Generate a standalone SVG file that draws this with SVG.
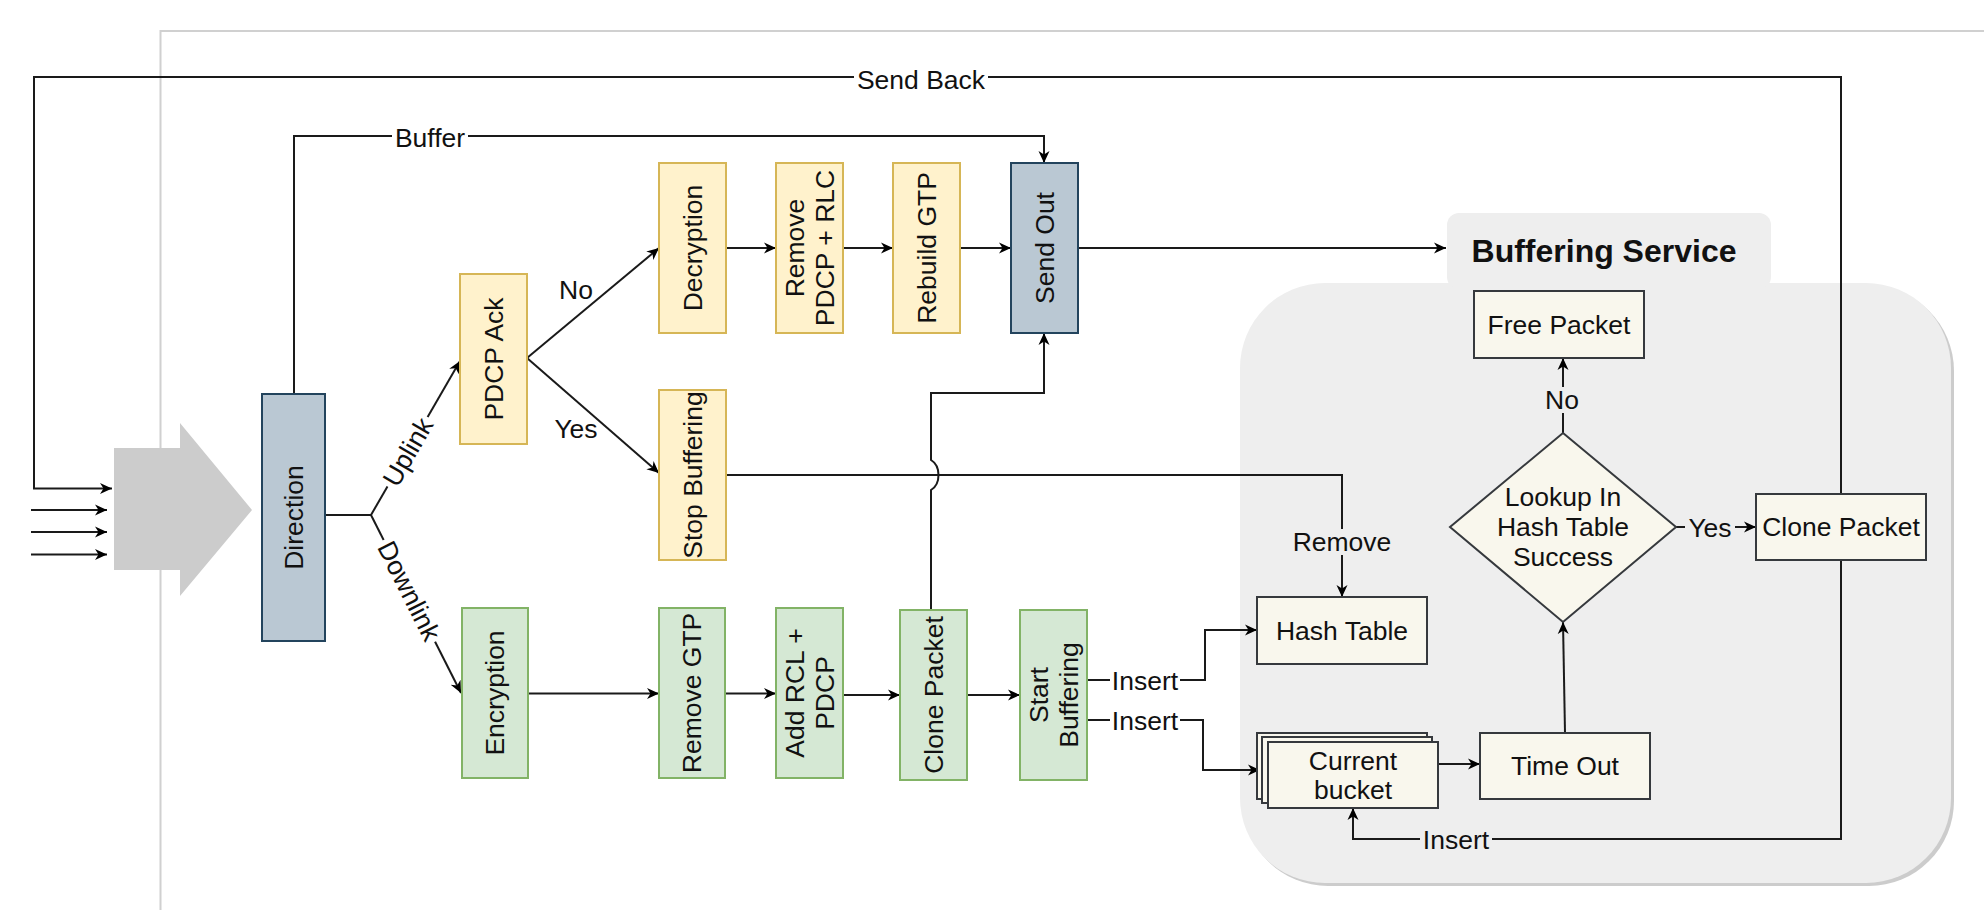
<svg xmlns="http://www.w3.org/2000/svg" width="1984" height="910" viewBox="0 0 1984 910">
  <style>
    text { font-family: "Liberation Sans", Arial, sans-serif; font-size: 26.5px; fill: #111; }
    .c { text-anchor: middle; dominant-baseline: central; }
    .yel { fill: #fff2cc; stroke: #d6b656; stroke-width: 2; }
    .grn { fill: #d5e8d4; stroke: #82b366; stroke-width: 2; }
    .blu { fill: #bac8d3; stroke: #23445d; stroke-width: 2; }
    .bei { fill: #f9f7ed; stroke: #36393d; stroke-width: 2; }
    .ln { fill: none; stroke: #1a1a1a; stroke-width: 2; }
    .arr { marker-end: url(#ah); }
    .bgw { fill: #ffffff; }
    .bgg { fill: #eeeeee; }
    .title { font-size: 32px; font-weight: bold; }
  </style>
  <defs>
    <marker id="ah" viewBox="0 0 13 13" refX="12" refY="6.5" markerWidth="13" markerHeight="13" markerUnits="userSpaceOnUse" orient="auto">
      <path d="M0,1 L12,6.5 L0,12 L3.5,6.5 Z" fill="#000"/>
    </marker>
  </defs>

  <rect x="0" y="0" width="1984" height="910" fill="#ffffff"/>

  <!-- page frame -->
  <path d="M160.5,910 V31 H1984" fill="none" stroke="#d0d0d0" stroke-width="2"/>

  <!-- buffering service container -->
  <g id="buffering-service">
    <rect x="1243" y="286" width="711" height="600" rx="85" fill="#cccccc"/>
    <rect x="1240" y="283" width="711" height="600" rx="85" fill="#eeeeee"/>
    <rect x="1447" y="213" width="324" height="76" rx="12" fill="#eeeeee"/>
    <text class="title" x="1604" y="251" text-anchor="middle" dominant-baseline="central">Buffering Service</text>
  </g>

  <!-- incoming traffic arrow -->
  <g id="ingress">
    <polygon points="114,448 180,448 180,423 252,510 180,596 180,570 114,570" fill="#cccccc"/>
  </g>

  <!-- connectors -->
  <g id="connectors">
    <path class="ln arr" d="M1841,494 V77 H34 V488.5 H112"/>
    <path class="ln arr" d="M31,510 H107"/>
    <path class="ln arr" d="M31,532 H107"/>
    <path class="ln arr" d="M31,554.5 H107"/>
    <path class="ln arr" d="M294,394 V136 H1044 V163"/>
    <path class="ln" d="M325,515 H371"/>
    <path class="ln arr" d="M371,515 L460,361"/>
    <path class="ln arr" d="M371,515 L461,693"/>
    <path class="ln arr" d="M527,358 L659,248"/>
    <path class="ln arr" d="M527,358 L659,473"/>
    <path class="ln arr" d="M726,248 H776"/>
    <path class="ln arr" d="M843,248 H893"/>
    <path class="ln arr" d="M960,248 H1011"/>
    <path class="ln arr" d="M1078,248 H1446"/>
    <path class="ln arr" d="M726,475 H1342 V597"/>
    <path class="ln arr" d="M931,610 V490 C941,484 941,466 931,460 V393 H1044 V333"/>
    <path class="ln arr" d="M528,693.5 H659"/>
    <path class="ln arr" d="M725,693.5 H776"/>
    <path class="ln arr" d="M843,695 H900"/>
    <path class="ln arr" d="M967,695 H1020"/>
    <path class="ln arr" d="M1087,680 H1205 V630 H1257"/>
    <path class="ln arr" d="M1087,720 H1203 V770 H1260"/>
    <path class="ln arr" d="M1438,764 H1480"/>
    <path class="ln arr" d="M1565,733 L1563,622"/>
    <path class="ln arr" d="M1563,433 V358"/>
    <path class="ln arr" d="M1676,527 H1756"/>
    <path class="ln arr" d="M1841,560 V839 H1353 V808"/>

    <!-- edge labels -->
    <rect class="bgw" x="854" y="66" width="134" height="26"/>
    <text class="c" x="921" y="80">Send Back</text>
    <rect class="bgw" x="392" y="124" width="76" height="26"/>
    <text class="c" x="430" y="138">Buffer</text>
    <g transform="translate(408,452) rotate(-60)">
      <rect class="bgw" x="-40" y="-12" width="80" height="24"/>
      <text class="c" x="0" y="0">Uplink</text>
    </g>
    <g transform="translate(409,591) rotate(63.2)">
      <rect class="bgw" x="-57" y="-12" width="114" height="24"/>
      <text class="c" x="0" y="0">Downlink</text>
    </g>
    <text class="c" x="576" y="290">No</text>
    <text class="c" x="576" y="429">Yes</text>
    <rect class="bgg" x="1290" y="529" width="104" height="26"/>
    <text class="c" x="1342" y="542">Remove</text>
    <rect class="bgw" x="1110" y="667" width="70" height="26"/>
    <text class="c" x="1145" y="681">Insert</text>
    <rect class="bgw" x="1110" y="707" width="70" height="26"/>
    <text class="c" x="1145" y="721">Insert</text>
    <rect class="bgg" x="1543" y="387" width="38" height="26"/>
    <text class="c" x="1562" y="400">No</text>
    <rect class="bgg" x="1685" y="514" width="50" height="26"/>
    <text class="c" x="1710" y="528">Yes</text>
    <rect class="bgg" x="1420" y="826" width="72" height="26"/>
    <text class="c" x="1456" y="840">Insert</text>
  </g>

  <!-- processing nodes -->
  <g id="direction">
    <rect class="blu" x="262" y="394" width="63" height="247"/>
    <text class="c" transform="translate(293.5,517.5) rotate(-90)">Direction</text>
  </g>
  <g id="pdcp-ack">
    <rect class="yel" x="460" y="274" width="67" height="170"/>
    <text class="c" transform="translate(493.5,359) rotate(-90)">PDCP Ack</text>
  </g>
  <g id="decryption">
    <rect class="yel" x="659" y="163" width="67" height="170"/>
    <text class="c" transform="translate(692.5,248) rotate(-90)">Decryption</text>
  </g>
  <g id="remove-pdcp-rlc">
    <rect class="yel" x="776" y="163" width="67" height="170"/>
    <text class="c" transform="translate(809.5,248) rotate(-90)"><tspan x="0" y="-15">Remove</tspan><tspan x="0" y="15">PDCP + RLC</tspan></text>
  </g>
  <g id="rebuild-gtp">
    <rect class="yel" x="893" y="163" width="67" height="170"/>
    <text class="c" transform="translate(926.5,248) rotate(-90)">Rebuild GTP</text>
  </g>
  <g id="send-out">
    <rect class="blu" x="1011" y="163" width="67" height="170"/>
    <text class="c" transform="translate(1044.5,248) rotate(-90)">Send Out</text>
  </g>
  <g id="stop-buffering">
    <rect class="yel" x="659" y="390" width="67" height="170"/>
    <text class="c" transform="translate(692.5,475) rotate(-90)">Stop Buffering</text>
  </g>
  <g id="encryption">
    <rect class="grn" x="462" y="608" width="66" height="170"/>
    <text class="c" transform="translate(495,693) rotate(-90)">Encryption</text>
  </g>
  <g id="remove-gtp">
    <rect class="grn" x="659" y="608" width="66" height="170"/>
    <text class="c" transform="translate(692,693) rotate(-90)">Remove GTP</text>
  </g>
  <g id="add-rcl-pdcp">
    <rect class="grn" x="776" y="608" width="67" height="170"/>
    <text class="c" transform="translate(809.5,693) rotate(-90)"><tspan x="0" y="-15">Add RCL +</tspan><tspan x="0" y="15">PDCP</tspan></text>
  </g>
  <g id="clone-packet-dl">
    <rect class="grn" x="900" y="610" width="67" height="170"/>
    <text class="c" transform="translate(933.5,695) rotate(-90)">Clone Packet</text>
  </g>
  <g id="start-buffering">
    <rect class="grn" x="1020" y="610" width="67" height="170"/>
    <text class="c" transform="translate(1053.5,695) rotate(-90)"><tspan x="0" y="-15">Start</tspan><tspan x="0" y="15">Buffering</tspan></text>
  </g>

  <!-- buffering service nodes -->
  <g id="free-packet">
    <rect class="bei" x="1474" y="291" width="170" height="67"/>
    <text class="c" x="1559" y="324.5">Free Packet</text>
  </g>
  <g id="lookup">
    <polygon class="bei" points="1563,433 1676,527 1563,622 1450,527"/>
    <text class="c" x="1563" y="497">Lookup In</text>
    <text class="c" x="1563" y="527">Hash Table</text>
    <text class="c" x="1563" y="557">Success</text>
  </g>
  <g id="clone-packet-buf">
    <rect class="bei" x="1756" y="494" width="170" height="66"/>
    <text class="c" x="1841" y="527">Clone Packet</text>
  </g>
  <g id="hash-table">
    <rect class="bei" x="1257" y="597" width="170" height="67"/>
    <text class="c" x="1342" y="630.5">Hash Table</text>
  </g>
  <g id="current-bucket">
    <rect class="bei" x="1257" y="733" width="170" height="66"/>
    <rect class="bei" x="1262" y="737" width="170" height="66"/>
    <rect class="bei" x="1268" y="742" width="170" height="66"/>
    <text class="c" x="1353" y="761">Current</text>
    <text class="c" x="1353" y="790">bucket</text>
  </g>
  <g id="time-out">
    <rect class="bei" x="1480" y="733" width="170" height="66"/>
    <text class="c" x="1565" y="766">Time Out</text>
  </g>
</svg>
